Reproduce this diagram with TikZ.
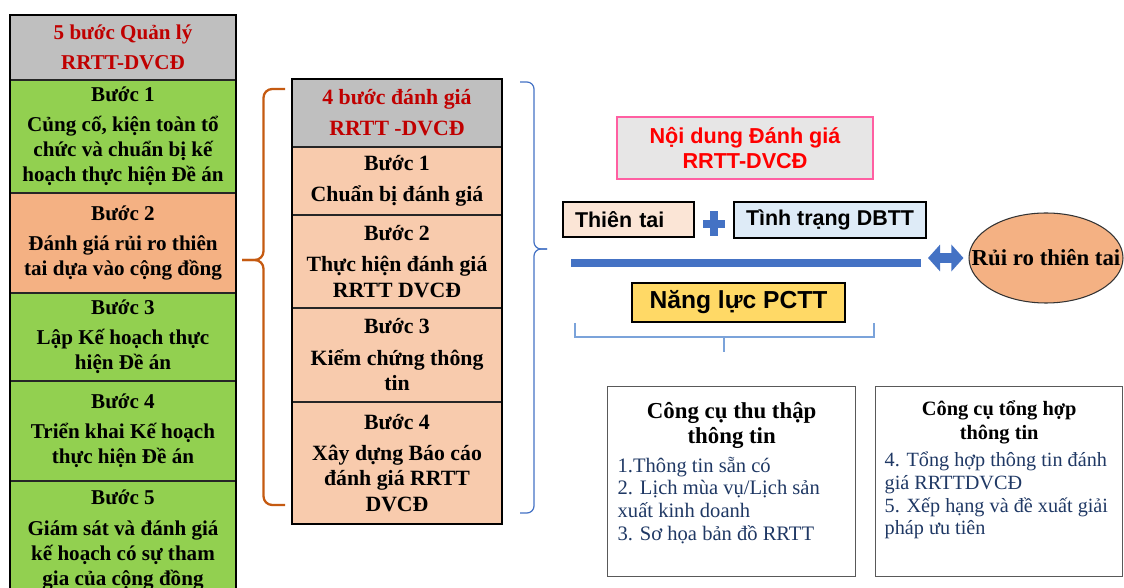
\documentclass[tikz,border=0pt]{standalone}
\usepackage{fontspec}
\setmainfont{Liberation Serif}
\setsansfont{Liberation Sans}
\usepackage{tikz}
\usetikzlibrary{shapes, arrows.meta, positioning, calc, chains}

\definecolor{hdrgray}{HTML}{BFBFBF}
\definecolor{stepgreen}{HTML}{92D050}
\definecolor{steporange}{HTML}{F4B183}
\definecolor{steppeach}{HTML}{F8CBAD}
\definecolor{hdrred}{HTML}{C00000}
\definecolor{braceorange}{HTML}{C55A11}
\definecolor{braceblue}{HTML}{4472C4}
\definecolor{pinkline}{HTML}{FF5FA2}
\definecolor{boxgray}{HTML}{E7E6E6}
\definecolor{peach}{HTML}{FBE5D6}
\definecolor{paleblue}{HTML}{DEEBF7}
\definecolor{capyellow}{HTML}{FFD966}
\definecolor{lineblue}{HTML}{4472C4}
\definecolor{listblue}{HTML}{1F3864}
\definecolor{bracketblue}{HTML}{7BA3DA}

\begin{document}
\begin{tikzpicture}[start chain=1 going below, node distance=0pt,
	lbox/.style={draw=black!85, line width=0.8pt, outer sep=0pt, inner sep=1pt, minimum width=4.52cm, align=center, font=\bfseries\fontsize{12}{14.2}\selectfont},
	mbox/.style={lbox, minimum width=4.2cm, font=\bfseries\fontsize{12.4}{14.7}\selectfont},
	colframe/.style={draw=black, line width=1.6pt},
	sbox/.style={draw=black, line width=1.2pt, inner sep=0pt, font=\sffamily\bfseries\fontsize{12.2}{14}\selectfont},
	tool/.style={draw=black!65, line width=0.8pt, inner sep=0.2cm, anchor=north west},
	curly/.style={line width=1.3pt, rounded corners=5pt}]
	\useasboundingbox (0,0) rectangle (22.48,-11.76);
	\clip (0,0) rectangle (22.48,-11.76);
			\node[lbox, on chain=1, fill=hdrgray, text=hdrred, minimum height=1.3cm, anchor=north west] (lhead) at (0.2,-0.3) {5 bước Quản lý\\[3pt]RRTT-DVCĐ};
			\node[lbox, on chain=1, fill=stepgreen, minimum height=2.26cm] (lstep1) {Bước 1\\[3pt]Củng cố, kiện toàn tổ\\chức và chuẩn bị kế\\hoạch thực hiện Đề án};
			\node[lbox, on chain=1, fill=steporange, minimum height=2cm] (lstep2) {Bước 2\\[3pt]Đánh giá rủi ro thiên\\tai dựa vào cộng đồng};
			\node[lbox, on chain=1, fill=stepgreen, minimum height=1.76cm] (lstep3) {Bước 3\\[3pt]Lập Kế hoạch thực\\hiện Đề án};
			\node[lbox, on chain=1, fill=stepgreen, minimum height=2cm] (lstep4) {Bước 4\\[3pt]Triển khai Kế hoạch\\thực hiện Đề án};
			\node[lbox, on chain=1, fill=stepgreen, minimum height=2.36cm] (lstep5) {Bước 5\\[3pt]Giám sát và đánh giá\\kế hoạch có sự tham\\gia của cộng đồng};
			\draw[colframe] (lhead.north west) rectangle (lstep5.south east);
	\begin{scope}[start chain=2 going below]
			\node[mbox, on chain=2, fill=hdrgray, text=hdrred, minimum height=1.36cm, anchor=north west] (mhead) at (5.84,-1.58) {4 bước đánh giá\\[3pt]RRTT -DVCĐ};
			\node[mbox, on chain=2, fill=steppeach, minimum height=1.36cm] (mstep1) {Bước 1\\[3pt]Chuẩn bị đánh giá};
			\node[mbox, on chain=2, fill=steppeach, minimum height=1.86cm] (mstep2) {Bước 2\\[3pt]Thực hiện đánh giá\\RRTT DVCĐ};
			\node[mbox, on chain=2, fill=steppeach, minimum height=1.88cm] (mstep3) {Bước 3\\[3pt]Kiểm chứng thông\\tin};
			\node[mbox, on chain=2, fill=steppeach, minimum height=2.44cm] (mstep4) {Bước 4\\[3pt]Xây dựng Báo cáo\\đánh giá RRTT\\DVCĐ};
			\draw[colframe] (mhead.north west) rectangle (mstep4.south east);
	\end{scope}
	\draw[curly, braceorange] (5.7,-1.78) -| (5.27,-5.2) -- (4.84,-5.2);
	\draw[curly, braceorange] (4.84,-5.2) -- (5.27,-5.2) |- (5.7,-10.1);
	\draw[curly, braceblue, line width=0.7pt, rounded corners=4pt] (10.4,-1.64) -| (10.68,-4.98) -- (10.94,-4.98);
	\draw[curly, braceblue, line width=0.7pt, rounded corners=4pt] (10.94,-4.98) -- (10.68,-4.98) |- (10.4,-10.26);
			\node[draw=pinkline, fill=boxgray, line width=0.9pt, text=red, minimum width=5.12cm, minimum height=1.24cm, align=center, font=\sffamily\bfseries\fontsize{12.3}{14.2}\selectfont] (noidung) at (14.9,-2.96) {Nội dung Đánh giá\\RRTT-DVCĐ};
			\node[sbox, fill=peach, text width=2.14cm, inner xsep=0.24cm, minimum height=0.7cm, align=left] (thientai) at (12.57,-4.39) {Thiên tai};
			\node[sbox, fill=paleblue, minimum width=3.84cm, minimum height=0.72cm] (tinhtrang) at (16.6,-4.4) {Tình trạng DBTT};
			\coordinate (plus) at ($(thientai.east)!0.5!(tinhtrang.west)+(0,-0.08)$);
	\draw[lineblue, line width=0.16cm] ($(plus)+(-0.22,0)$) -- ($(plus)+(0.22,0)$) ($(plus)+(0,0.25)$) -- ($(plus)+(0,-0.25)$);
			\coordinate (linestart) at (11.42,-5.26);
			\coordinate (lineend) at (18.42,-5.26);
	\draw[lineblue, line width=4.5pt] (linestart) -- (lineend);
			\node[ellipse, draw=black!80, fill=steporange, line width=0.6pt, minimum width=3.08cm, minimum height=1.8cm, inner sep=0pt, font=\bfseries\fontsize{13}{15}\selectfont] (rui) at (20.92,-5.16) {\makebox[0pt]{Rủi ro thiên tai}};
	\draw[lineblue, line width=0.2cm, shorten <=0.14cm, shorten >=0.1cm, {Triangle[width=0.52cm, length=0.24cm]}-{Triangle[width=0.52cm, length=0.24cm]}] (lineend |- rui.west) -- (rui.west);
			\node[sbox, fill=capyellow, minimum width=4.26cm, minimum height=0.78cm, font=\sffamily\bfseries\fontsize{14}{16}\selectfont] (nangluc) at (14.77,-6.05) {Năng lực PCTT};
	\draw[bracketblue, line width=0.8pt] (11.5,-6.46) |- (17.48,-6.74) -- (17.48,-6.46);
	\draw[bracketblue, line width=0.8pt] (14.48,-6.74) -- (14.48,-7.04);
			\node[tool] (thuthap) at (12.14,-7.72) {\parbox[c][3.4cm][t]{4.56cm}{\vspace*{3pt}{\centering\bfseries\fontsize{13}{14.7}\selectfont Công cụ thu thập\\thông tin\par}\vspace{3pt}
				{\color{listblue}\fontsize{11.7}{13}\selectfont 1.Thông tin sẵn có\\2. Lịch mùa vụ/Lịch sản\\xuất kinh doanh\\3. Sơ họa bản đồ RRTT\par}}};
			\node[tool, inner xsep=0.18cm] (tonghop) at (17.5,-7.72) {\parbox[c][3.4cm][t]{4.58cm}{\vspace*{2pt}{\centering\bfseries\fontsize{11.6}{14.2}\selectfont Công cụ tổng hợp\\thông tin\par}\vspace{2pt}
				{\color{listblue}\fontsize{11.5}{13}\selectfont 4. Tổng hợp thông tin đánh\\giá RRTTDVCĐ\\5. Xếp hạng và đề xuất giải\\pháp ưu tiên\par}}};
\end{tikzpicture}
\end{document}
